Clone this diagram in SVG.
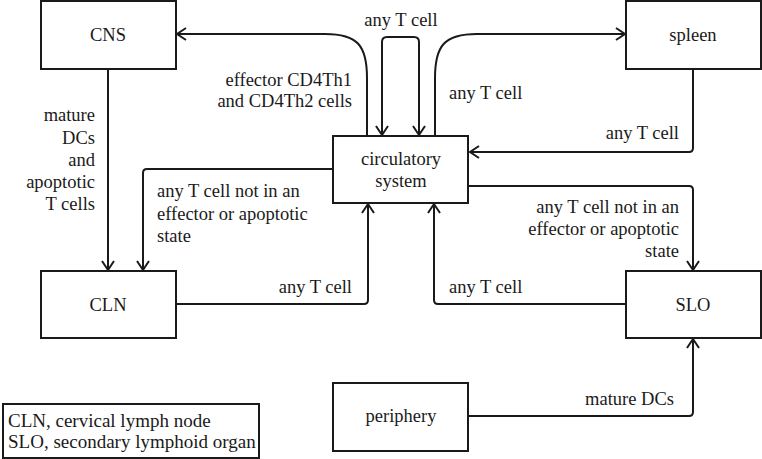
<svg xmlns="http://www.w3.org/2000/svg" width="762" height="459" viewBox="0 0 762 459">
<style>
  .box { fill: #fff; stroke: #1a1a1a; stroke-width: 2; }
  .t { font-family: "Liberation Serif", "Times New Roman", serif; font-size: 18.5px; fill: #1a1a1a; }
  .c { text-anchor: middle; }
  .e { text-anchor: end; }
  .edge { fill: none; stroke: #1a1a1a; stroke-width: 2; }
</style>
<defs>
  <marker id="arr" markerUnits="userSpaceOnUse" markerWidth="14" markerHeight="16" viewBox="-11 -8 14 16" refX="0" refY="0" orient="auto-start-reverse">
    <path d="M-9,-6 L0,0 L-9,6" fill="none" stroke="#1a1a1a" stroke-width="2"/>
  </marker>
</defs>
<rect width="762" height="459" fill="#fff"/>
<g id="connectors">
  <path class="edge" d="M367,136 V78 C367,46 358,34 325,34 H177" marker-end="url(#arr)"/>
  <path class="edge" d="M382,135 V42 Q382,37 387,37 H414 Q419,37 419,42 V135" marker-start="url(#arr)" marker-end="url(#arr)"/>
  <path class="edge" d="M435,136 V78 C435,46 444,34 477,34 H625" marker-end="url(#arr)"/>
  <path class="edge" d="M693,69 V148 Q693,152 689,152 H470" marker-end="url(#arr)"/>
  <path class="edge" d="M469,186 H689 Q693,186 693,190 V270" marker-end="url(#arr)"/>
  <path class="edge" d="M626,304 H438 Q434,304 434,300 V204" marker-end="url(#arr)"/>
  <path class="edge" d="M176,304 H364 Q368,304 368,300 V204" marker-end="url(#arr)"/>
  <path class="edge" d="M333,169 H147 Q143,169 143,173 V270" marker-end="url(#arr)"/>
  <path class="edge" d="M108,69 V270" marker-end="url(#arr)"/>
  <path class="edge" d="M469,416 H689 Q693,416 693,412 V339" marker-end="url(#arr)"/>
</g>
<g id="labels">
  <text class="t c" x="401" y="26">any T cell</text>
  <text class="t e" x="352" y="86">effector CD4Th1</text>
  <text class="t e" x="352" y="107">and CD4Th2 cells</text>
  <text class="t e" x="95" y="121">mature</text>
  <text class="t e" x="95" y="144">DCs</text>
  <text class="t e" x="95" y="166">and</text>
  <text class="t e" x="95" y="188">apoptotic</text>
  <text class="t e" x="95" y="210">T cells</text>
  <text class="t" x="157" y="197">any T cell not in an</text>
  <text class="t" x="157" y="220">effector or apoptotic</text>
  <text class="t" x="157" y="242">state</text>
  <text class="t" x="449" y="99">any T cell</text>
  <text class="t e" x="679" y="139">any T cell</text>
  <text class="t e" x="679" y="213">any T cell not in an</text>
  <text class="t e" x="679" y="235">effector or apoptotic</text>
  <text class="t e" x="679" y="257">state</text>
  <text class="t" x="449" y="293">any T cell</text>
  <text class="t e" x="352" y="293">any T cell</text>
  <text class="t e" x="674" y="405">mature DCs</text>
</g>
<g id="CNS"><rect class="box" x="41" y="1" width="135" height="68"/><text class="t c" x="108" y="41">CNS</text></g>
<g id="spleen"><rect class="box" x="626" y="1" width="135" height="68"/><text class="t c" x="693" y="41">spleen</text></g>
<g id="circulatory"><rect class="box" x="333" y="136" width="135" height="67"/><text class="t c" x="401" y="165">circulatory</text><text class="t c" x="401" y="187">system</text></g>
<g id="CLN"><rect class="box" x="41" y="271" width="135" height="67"/><text class="t c" x="108" y="311">CLN</text></g>
<g id="SLO"><rect class="box" x="626" y="271" width="135" height="67"/><text class="t c" x="693" y="311">SLO</text></g>
<g id="periphery"><rect class="box" x="333" y="383" width="135" height="68"/><text class="t c" x="401" y="422">periphery</text></g>
<g id="legend"><rect class="box" x="3" y="404" width="256" height="54"/><text class="t" x="8" y="427" style="font-size:19px">CLN, cervical lymph node</text><text class="t" x="8" y="448" style="font-size:19px">SLO, secondary lymphoid organ</text></g>
</svg>
